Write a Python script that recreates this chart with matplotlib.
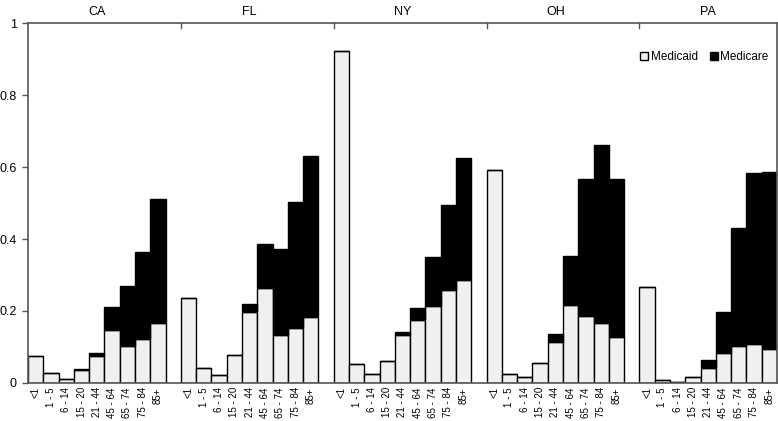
import matplotlib.pyplot as plt
import matplotlib.patches as mpatches
import numpy as np

plt.rcParams['font.family'] = ['Liberation Sans', 'DejaVu Sans']

etats = ["CA", "FL", "NY", "OH", "PA"]
ages = ["<1", "1 - 5", "6 - 14", "15 - 20", "21 - 44", "45 - 64", "65 - 74", "75 - 84", "85+"]

# part Medicaid (bas) et total Medicaid + Medicare par tranche d'age
medicaid = {
    "CA": [0.074, 0.027, 0.012, 0.035, 0.074, 0.147, 0.102, 0.121, 0.166],
    "FL": [0.236, 0.041, 0.021, 0.078, 0.197, 0.264, 0.133, 0.154, 0.182],
    "NY": [0.922, 0.052, 0.025, 0.061, 0.132, 0.176, 0.214, 0.259, 0.285],
    "OH": [0.593, 0.026, 0.017, 0.056, 0.115, 0.217, 0.185, 0.166, 0.129],
    "PA": [0.266, 0.008, 0.004, 0.016, 0.041, 0.083, 0.104, 0.108, 0.095],
}
total = {
    "CA": [0.074, 0.027, 0.012, 0.038, 0.083, 0.210, 0.269, 0.364, 0.512],
    "FL": [0.236, 0.041, 0.021, 0.078, 0.219, 0.385, 0.372, 0.504, 0.631],
    "NY": [0.922, 0.052, 0.025, 0.061, 0.141, 0.207, 0.351, 0.495, 0.625],
    "OH": [0.593, 0.026, 0.017, 0.056, 0.137, 0.354, 0.567, 0.661, 0.567],
    "PA": [0.266, 0.008, 0.004, 0.016, 0.065, 0.197, 0.430, 0.584, 0.586],
}

fig = plt.figure(figsize=(7.78, 4.21), dpi=100)
ax = fig.add_axes([0.036, 0.0903, 0.9627, 0.8550])

gris = "#f0f0f0"
positions = []
labels = []
for p, etat in enumerate(etats):
    x = np.arange(len(ages)) + p * 10
    bas = np.array(medicaid[etat])
    haut = np.array(total[etat]) - bas
    ax.bar(x, bas, width=1.0, color=gris, edgecolor="black", linewidth=1.0)
    ax.bar(x, haut, bottom=bas, width=1.0, color="black", edgecolor="black", linewidth=1.0)
    positions.extend(x)
    labels.extend(ages)
    # nom de l'etat au dessus du cadre
    ax.text(x.mean(), 1.015, etat, ha="center", va="bottom", fontsize=9,
            transform=ax.get_xaxis_transform())

ax.set_xlim(-0.5, 48.5)
ax.set_ylim(0, 1)
ax.set_xticks(positions)
ax.set_xticklabels(labels, rotation=90, fontsize=7)
ax.tick_params(axis="x", length=0, pad=3)
ax.set_yticks([0, 0.2, 0.4, 0.6, 0.8, 1])
ax.set_yticklabels(["0", "0.2", "0.4", "0.6", "0.8", "1"], fontsize=9)
ax.tick_params(axis="y", length=4, width=1, color="#555555", direction="out", pad=4)

# petits traits en haut entre les etats
for s in [9.5, 19.5, 29.5, 39.5]:
    ax.plot([s, s], [1, 0.985], color="#555555", linewidth=1, clip_on=False)

for sp in ax.spines.values():
    sp.set_color("#555555")
    sp.set_linewidth(1.2)

handles = [mpatches.Patch(facecolor=gris, edgecolor="black", label="Medicaid"),
           mpatches.Patch(facecolor="black", edgecolor="black", label="Medicare")]
ax.legend(handles=handles, ncol=2, frameon=False, loc="upper right",
          bbox_to_anchor=(0.995, 0.935), fontsize=8.5, handlelength=0.7,
          handleheight=0.7, handletextpad=0.2, columnspacing=1.0, borderaxespad=0)

fig.savefig("out.png", dpi=100)
